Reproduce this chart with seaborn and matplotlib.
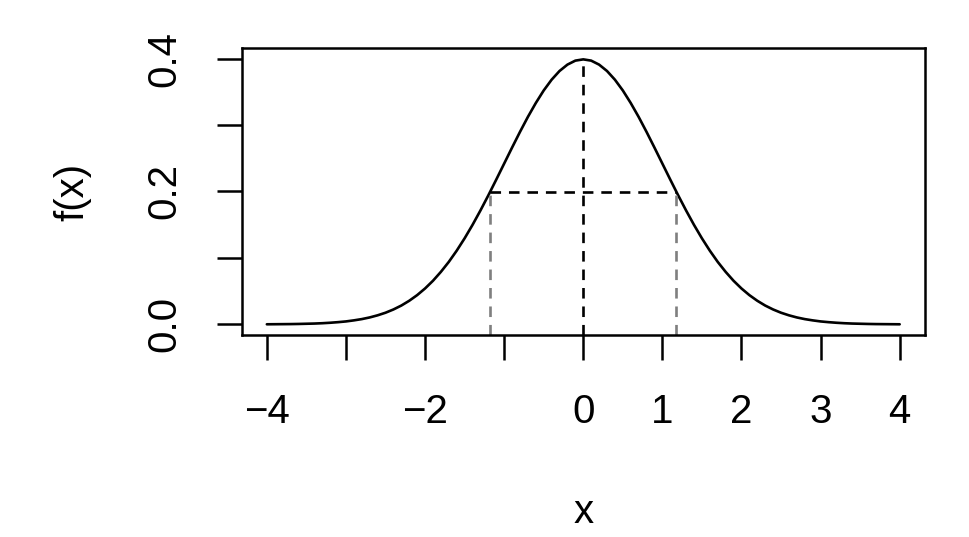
import matplotlib
matplotlib.use("Agg")
import matplotlib.pyplot as plt
import seaborn as sns
import pandas as pd

# standard normal density (step 0.1)
x_vals = [-4.0, -3.9, -3.8, -3.7, -3.6, -3.5, -3.4, -3.3, -3.2, -3.1,
          -3.0, -2.9, -2.8, -2.7, -2.6, -2.5, -2.4, -2.3, -2.2, -2.1,
          -2.0, -1.9, -1.8, -1.7, -1.6, -1.5, -1.4, -1.3, -1.2, -1.1,
          -1.0, -0.9, -0.8, -0.7, -0.6, -0.5, -0.4, -0.3, -0.2, -0.1,
          0.0, 0.1, 0.2, 0.3, 0.4, 0.5, 0.6, 0.7, 0.8, 0.9,
          1.0, 1.1, 1.2, 1.3, 1.4, 1.5, 1.6, 1.7, 1.8, 1.9,
          2.0, 2.1, 2.2, 2.3, 2.4, 2.5, 2.6, 2.7, 2.8, 2.9,
          3.0, 3.1, 3.2, 3.3, 3.4, 3.5, 3.6, 3.7, 3.8, 3.9, 4.0]
density = [0.0001, 0.0002, 0.0003, 0.0004, 0.0006, 0.0009, 0.0012, 0.0017, 0.0024, 0.0033,
           0.0044, 0.0060, 0.0079, 0.0104, 0.0136, 0.0175, 0.0224, 0.0283, 0.0355, 0.0440,
           0.0540, 0.0656, 0.0790, 0.0940, 0.1109, 0.1295, 0.1497, 0.1714, 0.1942, 0.2179,
           0.2420, 0.2661, 0.2897, 0.3123, 0.3332, 0.3521, 0.3683, 0.3814, 0.3910, 0.3970,
           0.3989, 0.3970, 0.3910, 0.3814, 0.3683, 0.3521, 0.3332, 0.3123, 0.2897, 0.2661,
           0.2420, 0.2179, 0.1942, 0.1714, 0.1497, 0.1295, 0.1109, 0.0940, 0.0790, 0.0656,
           0.0540, 0.0440, 0.0355, 0.0283, 0.0224, 0.0175, 0.0136, 0.0104, 0.0079, 0.0060,
           0.0044, 0.0033, 0.0024, 0.0017, 0.0012, 0.0009, 0.0006, 0.0004, 0.0003, 0.0002, 0.0001]

peak_x = 0.0
peak_y = 0.3989
half_y = 0.1995
half_x = [-1.1774, 1.1774]

x_ticks = [-4, -3, -2, -1, 0, 1, 2, 3, 4]
x_ticklabels = ['\u22124', '', '\u22122', '', '0', '1', '2', '3', '4']
y_ticks = [0.0, 0.1, 0.2, 0.3, 0.4]
y_ticklabels = ['0.0', '', '0.2', '', '0.4']

sns.set_style("ticks")
plt.rcParams['font.family'] = ['Liberation Sans', 'DejaVu Sans']
plt.rcParams['text.color'] = 'black'
plt.rcParams['axes.labelcolor'] = 'black'

fig = plt.figure(figsize=(9.7, 5.37), dpi=100)
ax = fig.add_axes([0.249, 0.3762, 0.7046, 0.5344])

y_lo, y_hi = -0.016, 0.416

df = pd.DataFrame({'x': x_vals, 'f': density})
sns.lineplot(data=df, x='x', y='f', ax=ax, color='black', linewidth=1.9)

# dashed guides
dash = (4, 3)
ax.plot([peak_x, peak_x], [y_lo, peak_y], color='black', lw=1.9, dashes=dash)
ax.plot(half_x, [half_y, half_y], color='black', lw=1.9, dashes=dash)
for hx in half_x:
    ax.plot([hx, hx], [y_lo, half_y], color='#7f7f7f', lw=1.9, dashes=dash)

ax.set_xlim(-4.32, 4.32)
ax.set_ylim(y_lo, y_hi)

ax.set_xticks(x_ticks)
ax.set_xticklabels(x_ticklabels)
ax.set_yticks(y_ticks)
ax.set_yticklabels(y_ticklabels, rotation=90, va='center')

ax.tick_params(axis='both', direction='out', length=18, width=1.8,
               labelsize=29, pad=24, colors='black')

for sp in ax.spines.values():
    sp.set_visible(True)
    sp.set_linewidth(1.8)
    sp.set_color('black')

ax.set_xlabel('x', fontsize=29)
ax.xaxis.label.set_va('baseline')
ax.xaxis.set_label_coords(0.5, -0.655)
ax.set_ylabel('f(x)', fontsize=29)
ax.yaxis.label.set_va('baseline')
ax.yaxis.set_label_coords(-0.232, 0.5)

fig.savefig('out.png', dpi=100)
